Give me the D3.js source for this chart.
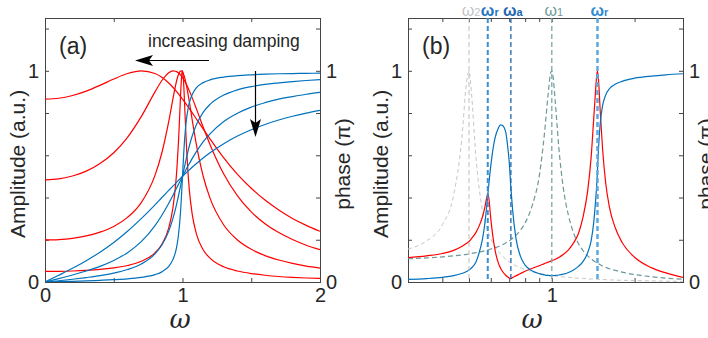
<!DOCTYPE html>
<html>
<head>
<meta charset="utf-8">
<script src="https://cdn.jsdelivr.net/npm/d3@7"></script>
<style>
  body { margin: 0; background: #fff; }
  svg { display: block; font-family: "Liberation Sans", Arial, sans-serif; }
</style>
</head>
<body>
<div id="chart"></div>
<script>
// ---------- panel (a): driven oscillator, 4 dampings ----------
const omegaA = [0, 0.1, 0.2, 0.3, 0.4, 0.5, 0.6, 0.7, 0.8, 0.85,
  0.9, 0.93, 0.95, 0.96, 0.97, 0.98, 0.99, 0.995, 1.0, 1.005,
  1.01, 1.02, 1.03, 1.04, 1.05, 1.07, 1.1, 1.15, 1.2, 1.3,
  1.4, 1.5, 1.6, 1.7, 1.8, 1.9, 2.0];

const ampA1 = [0.866, 0.870, 0.883, 0.904, 0.931, 0.961, 0.987, 1.000, 0.987, 0.969,
  0.942, 0.922, 0.907, 0.899, 0.891, 0.883, 0.875, 0.870, 0.866, 0.862,
  0.857, 0.848, 0.839, 0.830, 0.821, 0.802, 0.773, 0.725, 0.678, 0.588,
  0.510, 0.444, 0.388, 0.341, 0.301, 0.268, 0.240];
const ampA2 = [0.484, 0.488, 0.502, 0.525, 0.561, 0.612, 0.685, 0.783, 0.900, 0.954,
  0.991, 1.000, 0.998, 0.995, 0.991, 0.985, 0.977, 0.973, 0.968, 0.963,
  0.958, 0.946, 0.934, 0.920, 0.905, 0.873, 0.822, 0.734, 0.651, 0.511,
  0.408, 0.332, 0.276, 0.234, 0.201, 0.174, 0.153];
const ampA3 = [0.199, 0.201, 0.207, 0.218, 0.236, 0.263, 0.306, 0.376, 0.505, 0.612,
  0.760, 0.866, 0.932, 0.960, 0.981, 0.995, 1.000, 0.999, 0.995, 0.989,
  0.980, 0.957, 0.926, 0.891, 0.852, 0.770, 0.654, 0.502, 0.397, 0.270,
  0.199, 0.155, 0.125, 0.104, 0.088, 0.075, 0.066];
const ampA4 = [0.050, 0.0505, 0.052, 0.055, 0.0595, 0.067, 0.078, 0.098, 0.138, 0.178,
  0.256, 0.350, 0.461, 0.544, 0.654, 0.794, 0.937, 0.985, 1.000, 0.976,
  0.920, 0.769, 0.627, 0.517, 0.434, 0.324, 0.230, 0.153, 0.113, 0.072,
  0.052, 0.040, 0.032, 0.026, 0.022, 0.019, 0.017];

const phaseA1 = [0, 0.032, 0.065, 0.101, 0.141, 0.187, 0.240, 0.300, 0.365, 0.400,
  0.434, 0.454, 0.467, 0.474, 0.481, 0.487, 0.494, 0.497, 0.500, 0.503,
  0.506, 0.513, 0.519, 0.525, 0.531, 0.543, 0.560, 0.587, 0.612, 0.655,
  0.691, 0.721, 0.746, 0.767, 0.785, 0.800, 0.813];
const phaseA2 = [0, 0.016, 0.033, 0.052, 0.074, 0.102, 0.139, 0.191, 0.267, 0.316,
  0.373, 0.410, 0.436, 0.449, 0.461, 0.474, 0.487, 0.494, 0.500, 0.506,
  0.513, 0.525, 0.538, 0.550, 0.561, 0.584, 0.616, 0.663, 0.701, 0.760,
  0.799, 0.828, 0.849, 0.866, 0.878, 0.889, 0.898];
const phaseA3 = [0, 0.006, 0.013, 0.021, 0.030, 0.042, 0.059, 0.085, 0.133, 0.175,
  0.241, 0.300, 0.349, 0.377, 0.406, 0.437, 0.468, 0.484, 0.500, 0.516,
  0.532, 0.562, 0.592, 0.619, 0.645, 0.690, 0.743, 0.803, 0.841, 0.885,
  0.910, 0.925, 0.936, 0.943, 0.949, 0.954, 0.958];
const phaseA4 = [0, 0.002, 0.003, 0.005, 0.008, 0.011, 0.015, 0.022, 0.035, 0.048,
  0.074, 0.106, 0.144, 0.175, 0.219, 0.284, 0.378, 0.437, 0.500, 0.563,
  0.621, 0.713, 0.777, 0.819, 0.849, 0.887, 0.919, 0.944, 0.957, 0.970,
  0.977, 0.981, 0.984, 0.986, 0.987, 0.988, 0.989];

// ---------- panel (b): coupled system ----------
const omegaB = [0.3, 0.35, 0.4, 0.44, 0.47,
  0.49, 0.5, 0.51, 0.53, 0.55,
  0.56, 0.57, 0.58, 0.585, 0.59,
  0.6, 0.62, 0.64, 0.65, 0.66,
  0.68, 0.69, 0.7, 0.71, 0.72,
  0.74, 0.77, 0.8, 0.85, 0.9,
  0.94, 0.97, 0.99, 1.0, 1.01,
  1.03, 1.06, 1.1, 1.15, 1.2,
  1.25, 1.3, 1.35, 1.39, 1.42,
  1.44, 1.455, 1.466, 1.48, 1.5,
  1.53, 1.57, 1.62, 1.7, 1.8,
  2.0, 2.3, 2.6, 3.0];

const ampB = [0.115, 0.124, 0.135, 0.150, 0.168,
  0.183, 0.192, 0.205, 0.235, 0.280,
  0.310, 0.350, 0.400, 0.417, 0.400,
  0.300, 0.160, 0.088, 0.068, 0.052,
  0.032, 0.025, 0.019, 0.016, 0.021,
  0.029, 0.040, 0.051, 0.065, 0.077,
  0.087, 0.094, 0.099, 0.101, 0.103,
  0.108, 0.116, 0.130, 0.152, 0.185,
  0.230, 0.310, 0.430, 0.590, 0.770,
  0.890, 0.970, 1.000, 0.950, 0.810,
  0.630, 0.470, 0.355, 0.258, 0.188,
  0.117, 0.068, 0.043, 0.022];

const phaseB = [0.012, 0.016, 0.022, 0.030, 0.040,
  0.050, 0.057, 0.066, 0.095, 0.160,
  0.205, 0.270, 0.360, 0.410, 0.460,
  0.550, 0.675, 0.730, 0.744, 0.742,
  0.710, 0.650, 0.570, 0.445, 0.345,
  0.210, 0.120, 0.080, 0.052, 0.040,
  0.034, 0.031, 0.030, 0.030, 0.030,
  0.031, 0.033, 0.037, 0.045, 0.057,
  0.074, 0.098, 0.138, 0.195, 0.280,
  0.370, 0.450, 0.530, 0.640, 0.750,
  0.835, 0.885, 0.915, 0.936, 0.950,
  0.965, 0.975, 0.981, 0.986];

// bare oscillator 2 (omega2) and oscillator 1 (omega1)
const ampOsc2 = [0.156, 0.194, 0.271, 0.413, 0.668,
  0.946, 1.000, 0.900, 0.590, 0.400,
  0.340, 0.295, 0.258, 0.243, 0.229,
  0.205, 0.169, 0.144, 0.133, 0.124,
  0.108, 0.102, 0.096, 0.090, 0.085,
  0.077, 0.067, 0.059, 0.049, 0.041,
  0.036, 0.033, 0.031, 0.030, 0.029,
  0.028, 0.026, 0.024, 0.022, 0.020,
  0.018, 0.017, 0.015, 0.014, 0.014,
  0.013, 0.013, 0.013, 0.012, 0.012,
  0.012, 0.011, 0.010, 0.009, 0.008,
  0.007, 0.005, 0.004, 0.003];
const ampOsc1 = [0.110, 0.114, 0.119, 0.124, 0.128,
  0.131, 0.133, 0.135, 0.139, 0.143,
  0.145, 0.148, 0.150, 0.151, 0.153,
  0.156, 0.162, 0.168, 0.172, 0.176,
  0.185, 0.190, 0.195, 0.201, 0.207,
  0.221, 0.246, 0.280, 0.365, 0.500,
  0.700, 0.890, 0.990, 1.000, 0.975,
  0.850, 0.640, 0.450, 0.315, 0.232,
  0.182, 0.148, 0.124, 0.110, 0.101,
  0.095, 0.092, 0.089, 0.086, 0.082,
  0.076, 0.070, 0.063, 0.055, 0.047,
  0.035, 0.025, 0.018, 0.013];

// marker frequencies on top of panel (b)
const markerOmega = [0.5, 0.585, 0.71, 1.0, 1.466];
const markerSub = ["2", "r", "a", "1", "r"];

const yTicks = [0, 0.2, 0.4, 0.6, 0.8, 1, 1.2];
const xTicksA = [0, 0.5, 1, 1.5, 2];
const xTicksB = [0.3, 0.4, 0.5, 0.6, 0.7, 0.8, 0.9, 1, 2, 3];

// ---------- drawing ----------
const W = 708, H = 338;
const plotTop = 18, plotBottom = 282;
const RED = "#ff0000", BLUE = "#0072bd", AXC = "#262626";

const svg = d3.select("#chart").append("svg")
    .attr("width", W).attr("height", H);

const y = d3.scaleLinear().domain([0, 1.25]).range([plotBottom, plotTop]);

const xA = d3.scaleLinear().domain([0, 2]).range([45, 320]);
const xB = d3.scaleLog().domain([0.3, 3]).range([408, 683]);

function frame(x, id, xTicks, xLabelVals, omegaX) {
  const [x0, x1] = x.range();
  const g = svg.append("g");

  g.append("clipPath").attr("id", id)
    .append("rect").attr("x", x0).attr("y", plotTop)
    .attr("width", x1 - x0).attr("height", plotBottom - plotTop);

  const fmtX = d => xLabelVals.includes(d) ? String(d) : "";
  const fmtY = d => (d === 0 || d === 1) ? String(d) : "";

  const axes = [
    g.append("g").attr("transform", `translate(0,${plotBottom})`)
      .call(d3.axisBottom(x).tickValues(xTicks).tickFormat(fmtX).tickSizeInner(-4).tickSizeOuter(0).tickPadding(6)),
    g.append("g").attr("transform", `translate(0,${plotTop})`)
      .call(d3.axisTop(x).tickValues(xTicks).tickFormat("").tickSizeInner(-4).tickSizeOuter(0)),
    g.append("g").attr("transform", `translate(${x0},0)`)
      .call(d3.axisLeft(y).tickValues(yTicks).tickFormat(fmtY).tickSizeInner(-4).tickSizeOuter(0).tickPadding(6)),
    g.append("g").attr("transform", `translate(${x1},0)`)
      .call(d3.axisRight(y).tickValues(yTicks).tickFormat(fmtY).tickSizeInner(-4).tickSizeOuter(0).tickPadding(6))
  ];
  axes.forEach(a => {
    a.attr("color", AXC).attr("font-size", 20).attr("font-family", null);
    a.select(".domain").remove();
    a.selectAll(".tick line").attr("stroke", "#444");
  });

  g.append("rect")
    .attr("x", x0 + 0.5).attr("y", plotTop + 0.5)
    .attr("width", x1 - x0).attr("height", plotBottom - plotTop)
    .attr("fill", "none").attr("stroke", "#444").attr("stroke-width", 1);

  // axis titles
  g.append("text").attr("x", omegaX).attr("y", 328)
    .attr("text-anchor", "middle").attr("font-size", 26)
    .attr("font-style", "italic").attr("font-family", "'DejaVu Serif', serif")
    .attr("fill", AXC).text("ω");
  g.append("text")
    .attr("transform", `translate(${x0 - 20},${(plotTop + plotBottom) / 2 + 14}) rotate(-90)`)
    .attr("text-anchor", "middle").attr("font-size", 21).attr("fill", AXC)
    .text("Amplitude (a.u.)");
  g.append("text")
    .attr("transform", `translate(${x1 + 30},${(plotTop + plotBottom) / 2 + 14}) rotate(-90)`)
    .attr("text-anchor", "middle").attr("font-size", 21).attr("fill", AXC)
    .text("phase (π)");
  return g;
}

function curve(g, x, xs, ys, clipId, color, width, dash) {
  const line = d3.line()
    .x(d => x(d[0])).y(d => y(d[1]))
    .curve(d3.curveMonotoneX);
  g.append("path")
    .datum(d3.zip(xs, ys))
    .attr("d", line)
    .attr("clip-path", `url(#${clipId})`)
    .attr("fill", "none")
    .attr("stroke", color)
    .attr("stroke-width", width)
    .attr("stroke-dasharray", dash || null);
}

// panel (a)
const gA = frame(xA, "clipA", xTicksA, [0, 1, 2], 180);
[ampA1, ampA2, ampA3, ampA4].forEach(a => curve(gA, xA, omegaA, a, "clipA", RED, 1.2));
[phaseA1, phaseA2, phaseA3, phaseA4].forEach(p => curve(gA, xA, omegaA, p, "clipA", BLUE, 1.2));

gA.append("text").attr("x", 59).attr("y", 54).attr("font-size", 23).attr("fill", AXC).text("(a)");
gA.append("text").attr("x", 148).attr("y", 47).attr("font-size", 17.5).attr("fill", AXC).text("increasing damping");

// arrows
gA.append("line").attr("x1", 209).attr("y1", 60.5).attr("x2", 148).attr("y2", 60.5)
  .attr("stroke", "#000").attr("stroke-width", 1.2);
gA.append("path").attr("d", "M135,60.5 L153,55 L149,60.5 L153,66 Z").attr("fill", "#000");
gA.append("line").attr("x1", 255.5).attr("y1", 71).attr("x2", 255.5).attr("y2", 124)
  .attr("stroke", "#000").attr("stroke-width", 1.2);
gA.append("path").attr("d", "M255.5,137 L250,119 L255.5,123 L261,119 Z").attr("fill", "#000");

// panel (b)
const gB = frame(xB, "clipB", xTicksB, [1], 532);
curve(gB, xB, omegaB, ampOsc2, "clipB", "#c6c6c6", 1, "4,3");
curve(gB, xB, omegaB, ampOsc1, "clipB", "#6e9898", 1.2, "5,3");
curve(gB, xB, omegaB, ampB, "clipB", RED, 1.2);
curve(gB, xB, omegaB, phaseB, "clipB", BLUE, 1.2);

gB.append("text").attr("x", 422).attr("y", 54).attr("font-size", 23).attr("fill", AXC).text("(b)");

const markerStyle = [
  { line: "#bdbdbd", w: 1, text: "#c4c4c4", weight: "normal" },
  { line: "#3a8fd4", w: 2, text: "#1f74c0", weight: "bold" },
  { line: "#1f66b0", w: 1.3, text: "#1f66b0", weight: "bold" },
  { line: "#7fa8a8", w: 1.3, text: "#6f9c9c", weight: "normal" },
  { line: "#5ea8de", w: 2.5, text: "#2f8ad0", weight: "bold" }
];

markerOmega.forEach((w, i) => {
  const st = markerStyle[i];
  gB.append("line")
    .attr("x1", xB(w)).attr("x2", xB(w))
    .attr("y1", plotTop).attr("y2", plotBottom)
    .attr("stroke", st.line).attr("stroke-width", st.w)
    .attr("stroke-dasharray", "5,3");
  const t = gB.append("text")
    .attr("x", xB(w) + 2).attr("y", 16)
    .attr("text-anchor", "middle").attr("fill", st.text)
    .attr("font-weight", st.weight);
  t.append("tspan").attr("font-size", 16).text("ω");
  t.append("tspan").attr("font-size", 11).text(markerSub[i]);
});
</script>
</body>
</html>
